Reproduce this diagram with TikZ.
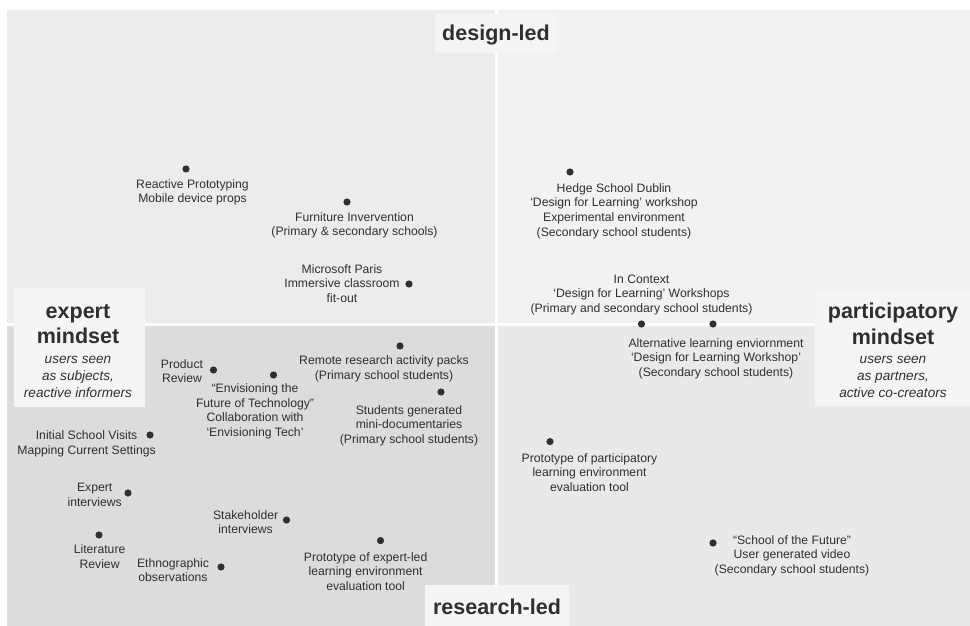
\documentclass[tikz,border=0pt]{standalone}
\usepackage{fontspec}
\setmainfont{Liberation Sans}
\definecolor{txt}{HTML}{2F2F2F}
\definecolor{qtl}{HTML}{ECECEC}
\definecolor{qtr}{HTML}{F2F2F2}
\definecolor{qbl}{HTML}{DCDCDC}
\definecolor{qbr}{HTML}{E9E9E9}
\definecolor{boxbg}{HTML}{F5F5F5}
\begin{document}
\begin{tikzpicture}[x=1pt,y=-1pt,
  lbl/.style={align=center,inner sep=0pt,text=txt,font=\fontsize{12.2}{14.6}\selectfont},
  big/.style={align=center,inner sep=0pt,text=txt,font=\fontsize{21.5}{25.5}\selectfont\bfseries},
  sub/.style={align=center,inner sep=0pt,text=txt,font=\fontsize{13.6}{16.8}\selectfont\itshape}]
\useasboundingbox (0,0) rectangle (970,626);
% quadrants
\fill[qtl] (7,10) rectangle (495,323);
\fill[qtr] (498,10) rectangle (970,323);
\fill[qbl] (7,326) rectangle (495,626);
\fill[qbr] (498,326) rectangle (970,626);
% axis labels
\fill[boxbg] (435,14) rectangle (557,53);
\fill[boxbg] (425,585) rectangle (569,626);
\fill[boxbg] (14,288) rectangle (145,407);
\fill[boxbg] (815,290) rectangle (970,406);
\node[big] (top) at (496,34.7) {design-led};
\node[big] (bot) at (497,606.5) {research-led};
\node[big] (ex) at (78,324) {expert\\mindset};
\node[sub] (exS) at (78,377) {users seen\\as subjects,\\reactive informers};
\node[big] (pa) at (893,324) {participatory\\mindset};
\node[sub] (paS) at (893,377) {users seen\\as partners,\\active co-creators};
% dots
\coordinate (rp) at (186,169); \coordinate (fi) at (347,202); \coordinate (mp) at (409,284);
\coordinate (hs) at (570,172); \coordinate (ic) at (641.5,324); \coordinate (al) at (713,324);
\coordinate (pr) at (213.5,370); \coordinate (en) at (273.5,375); \coordinate (rr) at (400,346);
\coordinate (sg) at (441,392); \coordinate (is) at (150,435); \coordinate (ei) at (128,493);
\coordinate (lr) at (99,535); \coordinate (si) at (286.5,520); \coordinate (eo) at (221,567);
\coordinate (pe) at (380.5,540.6); \coordinate (pp) at (550,441.6); \coordinate (sf) at (713,543);
\foreach \p in {rp,fi,mp,hs,ic,al,pr,en,rr,sg,is,ei,lr,si,eo,pe,pp,sf} \fill[txt] (\p) circle (3.6pt);
% texts
\node[lbl] (rpT) at (192.5,192.3) {Reactive Prototyping\\Mobile device props};
\node[lbl] (fiT) at (354.5,225.3) {Furniture Invervention\\(Primary \& secondary schools)};
\node[lbl] (mpT) at (342,283.5) {Microsoft Paris\\Immersive classroom\\fit-out};
\node[lbl] (hsT) at (614,211) {Hedge School Dublin\\‘Design for Learning’ workshop\\Experimental environment\\(Secondary school students)};
\node[lbl] (icT) at (641.5,294.8) {In Context\\‘Design for Learning’ Workshops\\(Primary and secondary school students)};
\node[lbl] (alT) at (716,358.5) {Alternative learning enviornment\\‘Design for Learning Workshop’\\(Secondary school students)};
\node[lbl] (prT) at (182,371.3) {Product\\Review};
\node[lbl] (enT) at (255,411.5) {“Envisioning the\\Future of Technology”\\Collaboration with\\‘Envisioning Tech’};
\node[lbl] (rrT) at (384,369) {Remote research activity packs\\(Primary school students)};
\node[lbl] (sgT) at (409,425.5) {Students generated\\mini-documentaries\\(Primary school students)};
\node[lbl] (isT) at (86.6,443.8) {Initial School Visits\\Mapping Current Settings};
\node[lbl] (eiT) at (94.7,494.8) {Expert\\interviews};
\node[lbl] (lrT) at (99.6,556.5) {Literature\\Review};
\node[lbl] (siT) at (245.6,522) {Stakeholder\\interviews};
\node[lbl] (eoT) at (173,570) {Ethnographic\\observations};
\node[lbl] (peT) at (365.6,571.5) {Prototype of expert-led\\learning environment\\evaluation tool};
\node[lbl] (ppT) at (589.5,472.5) {Prototype of participatory\\learning environment\\evaluation tool};
\node[lbl] (sfT) at (792,555.5) {“School of the Future”\\User generated video\\(Secondary school students)};
\end{tikzpicture}
\end{document}
